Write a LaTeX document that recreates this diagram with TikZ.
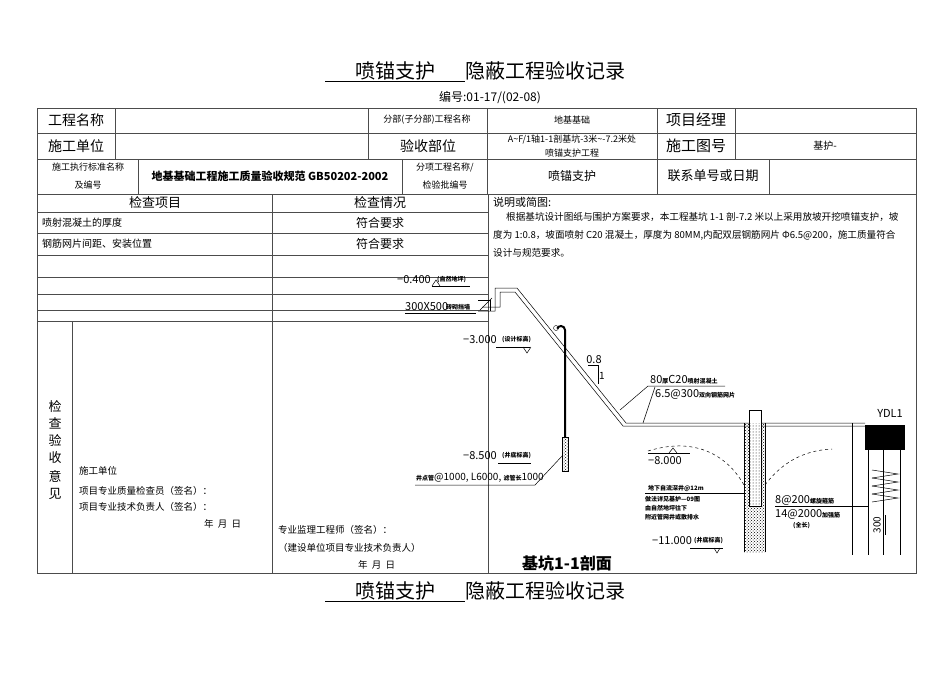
\documentclass[tikz,border=0pt]{standalone}
\usepackage{fontspec}
\setmainfont{Liberation Serif}
\newfontfamily\cjk{Noto Sans CJK SC}
\usetikzlibrary{positioning,patterns}
\newcommand\fz[1]{\fontsize{#1}{#1}\selectfont}

\begin{document}
\begin{tikzpicture}[x=1pt,y=-1pt,
        every node/.style={font=\cjk, inner sep=0pt},
        grid/.style={draw=black!70, line width=0.8pt},
        cad/.style={line width=0.5pt},
        lbl/.style={anchor=west, font=\cjk\fz{9.5}},
        para/.style={anchor=west, font=\cjk\fz{9.6}},
        tiny/.style={anchor=west, font=\cjk\bfseries\fz{6}}
        ]
        \useasboundingbox (0,0) rectangle (950,672);
        % --- titles ---
        \node (title) at (475,72) {\fz{20}\underline{\hspace{1.5em}喷锚支护\hspace{1.5em}}隐蔽工程验收记录};
        \node (code) at (490,98) {\fz{12}编号:01-17/(02-08)};
        \node (title2) at (475,592) {\fz{20}\underline{\hspace{1.5em}喷锚支护\hspace{1.5em}}隐蔽工程验收记录};

        % --- table grid ---
        \draw[grid] (37,108) rectangle (916,573);
        \foreach \y in {133,159,194}
            \draw[grid] (37,\y) -- (916,\y);
        \foreach \y in {212,233,255,277,294,310,321}
            \draw[grid] (37,\y) -- (488,\y);
        \draw[grid] (115,108) -- (115,159);
        \draw[grid] (368,108) -- (368,159);
        \draw[grid] (487,108) -- (487,194);
        \draw[grid] (657,108) -- (657,194);
        \draw[grid] (735,108) -- (735,159);
        \draw[grid] (138,159) -- (138,194);
        \draw[grid] (402,159) -- (402,194);
        \draw[grid] (769,159) -- (769,194);
        \draw[grid] (272,194) -- (272,573);
        \draw[grid] (488,194) -- (488,573);
        \draw[grid] (72,321) -- (72,573);

        % --- table texts ---
        \node (gcmc) at (76,120) {\fz{14}工程名称};
        \node (fbmc) at (427,120) {\fz{9}分部(子分部)工程名称};
        \node (djjc) at (572,120) {\fz{9}地基基础};
        \node (xmjl) at (696,120) {\fz{15}项目经理};
        \node (sgdw) at (76,146) {\fz{14}施工单位};
        \node (ysbw) at (428,146) {\fz{14}验收部位};
        \node[align=center] (bw) at (572,146) {\fz{9}A\textasciitilde F/1轴1-1剖基坑-3米\textasciitilde-7.2米处\\[2pt]\fz{9}喷锚支护工程};
        \node (sgth) at (696,146) {\fz{15}施工图号};
        \node (jh) at (825,146) {\fz{10}基护-};
        \node[align=center] (bz) at (88,176) {\fz{9}施工执行标准名称\\[6pt]\fz{9}及编号};
        \node (gb) at (270,176) {\fz{11}\bfseries 地基基础工程施工质量验收规范 GB50202-2002};
        \node[align=center] (fx) at (445,176) {\fz{9}分项工程名称/\\[6pt]\fz{9}检验批编号};
        \node (pmzh) at (572,176) {\fz{12}喷锚支护};
        \node (lxdh) at (713,176) {\fz{13}联系单号或日期};
        \node (jcxm) at (155,203) {\fz{13}检查项目};
        \node (jcqk) at (380,203) {\fz{13}检查情况};
        \node[anchor=west] (item1) at (42,223) {\fz{10}喷射混凝土的厚度};
        \node (ok1) at (380,223) {\fz{12}符合要求};
        \node[anchor=west] (item2) at (42,244) {\fz{10}钢筋网片间距、安装位置};
        \node (ok2) at (380,244) {\fz{12}符合要求};
        \node[align=center] (jcys) at (55,450) {\fz{13}检\\[5pt]\fz{13}查\\[5pt]\fz{13}验\\[5pt]\fz{13}收\\[5pt]\fz{13}意\\[5pt]\fz{13}见};
        \node[lbl] (sgdw2) at (79,471) {施工单位};
        \node[lbl] (zjy) at (79,491) {项目专业质量检查员（签名）：};
        \node[lbl] (jsfz) at (79,507) {项目专业技术负责人（签名）：};
        \node[lbl] (date1) at (204,524) {年\ \ 月\ \ 日};
        \node[lbl] (jlgcs) at (278,530) {专业监理工程师（签名）：};
        \node[lbl] (jsdw) at (278,548) {（建设单位项目专业技术负责人）};
        \node[lbl] (date2) at (358,565) {年\ \ 月\ \ 日};

        % --- description ---
        \node[anchor=west] (smjt) at (493,202) {\fz{11}说明或简图:};
        \node[para] (desc1) at (506,217) {根据基坑设计图纸与围护方案要求，本工程基坑 1-1 剖-7.2 米以上采用放坡开挖喷锚支护，坡};
        \node[para] (desc2) at (493,235) {度为 1:0.8，坡面喷射 C20 混凝土，厚度为 80MM,内配双层钢筋网片 Φ6.5@200，施工质量符合};
        \node[para] (desc3) at (493,253) {设计与规范要求。};

        % --- section drawing ---
        % slope profile (double line)
        \draw[cad] (478,311) -- (495,311) -- (495,288) -- (517,288) -- (626,423) -- (865,423);
        \draw[cad] (482,307) -- (500,307) -- (500,292) -- (515,292) -- (623,426) -- (865,426);
        \draw[cad] (478,300) -- (490,300) -- (490,311);
        \draw[cad] (480,310) -- (492,298);
        % anchor tube
        \draw[line width=2pt] (565,437) -- (565,330) arc[start angle=0, end angle=160, radius=4pt];
        \node[draw, circle, minimum size=5pt, line width=0.4pt] (ring) at (556,328) {};
        \node[draw, pattern=crosshatch dots, minimum width=6pt, minimum height=34pt] (filter) at (565,454) {};
        % slope ratio
        \draw[cad] (588,365) -- (598,365) -- (598,384);
        \node (r08) at (594,360) {\fz{11}0.8};
        \node (r1) at (602,376) {\fz{10}1};
        % elevation labels
        \node[anchor=west] (e04) at (397,280) {\fz{11}−0.400};
        \node[tiny] (e04t) at (437,280) {(自然地坪)};
        \draw[cad] (432,286) -- (470,286);
        \draw[cad] (432,286) -- (436,280) -- (440,286);
        \node[anchor=west] (wall) at (405,307) {\fz{11}300X500};
        \node[tiny] (wallt) at (446,307) {砖砌挡墙};
        \draw[cad] (405,313) -- (476,313);
        \node[anchor=west] (e30) at (463,340) {\fz{11}−3.000};
        \node[tiny] (e30t) at (502,340) {(设计标高)};
        \draw[cad] (496,347) -- (530,347);
        \draw[cad] (523,347) -- (527,353) -- (531,347);
        \node[anchor=west] (e85) at (463,456) {\fz{11}−8.500};
        \node[tiny] (e85t) at (502,456) {(井底标高)};
        \draw[cad] (498,463) -- (531,463);
        \node[anchor=west] (jdg) at (416,478) {\fz{10}\textbf{\fz{6}井点管}@1000, L6000, \textbf{\fz{6}滤管长}1000};
        \draw[cad] (415,485) -- (535,485) -- (563,455);
        \node[anchor=west] (c20) at (650,380) {\fz{11}80\textbf{\fz{6}厚}C20\textbf{\fz{6}喷射混凝土}};
        \node[anchor=west] (mesh) at (655,394) {\fz{11}6.5@300\textbf{\fz{6}双向钢筋网片}};
        \draw[cad] (620,410) -- (648,386) -- (725,386);
        \draw[cad] (643,423) -- (655,387);
        % well
        \node[anchor=east] (ydl) at (903,413) {\fz{11}YDL1};
        \fill (865,425) rectangle (905,450);
        \fill[pattern=crosshatch dots, pattern color=black] (744,423) rectangle (765,552);
        \fill[white] (749,410) rectangle (761,506);
        \fill[pattern=dots, pattern color=black] (749,423) rectangle (761,506);
        \draw[cad] (744,423) -- (744,552);
        \draw[cad] (765,423) -- (765,552);
        \draw[cad] (749,410) rectangle (761,506);
        \draw[cad, dashed] (648,451) .. controls (700,435) and (730,460) .. (744,485);
        \draw[cad, dashed] (765,485) .. controls (785,458) and (810,450) .. (832,449);
        \node[anchor=west] (e80) at (648,461) {\fz{11}−8.000};
        \draw[cad] (648,453) -- (690,453);
        \draw[cad] (669,453) -- (673,448) -- (677,453);
        \node[tiny] (well1) at (648,489) {地下自流深井@12m};
        \node[tiny] (well2) at (645,499) {做法详见基护—09图};
        \node[tiny] (well3) at (645,508) {由自然地坪往下};
        \node[tiny] (well4) at (645,517) {附近管网井或散排水};
        \draw[cad] (645,493) -- (746,493);
        \node[anchor=west] (hoop) at (775,500) {\fz{11}8@200\textbf{\fz{6}螺旋箍筋}};
        \node[anchor=west] (bar) at (775,514) {\fz{11}14@2000\textbf{\fz{6}加强筋}};
        \node[tiny] (full) at (793,526) {(全长)};
        \draw[cad] (775,506) -- (868,506);
        \node[anchor=west] (e11) at (652,541) {\fz{11}−11.000};
        \node[tiny] (e11t) at (694,541) {(井底标高)};
        \draw[cad] (690,548) -- (723,548);
        \draw[cad] (714,548) -- (717,553) -- (720,548);
        % column YDL1
        \draw[cad] (852,423) -- (852,555);
        \foreach \x in {868,883,900}
            \draw[cad] (\x,450) -- (\x,555);
        \foreach \y in {470,478,486,494}
            \draw[cad] (872,\y) -- (898,\y+4) -- (872,\y+8);
        \node[rotate=90] (d300) at (877,525) {\fz{10}300};
        \draw[cad] (885,515) -- (885,535);
        \node (sect) at (567,563) {\fz{16}\bfseries 基坑1-1剖面};
    \end{tikzpicture}
\end{document}
